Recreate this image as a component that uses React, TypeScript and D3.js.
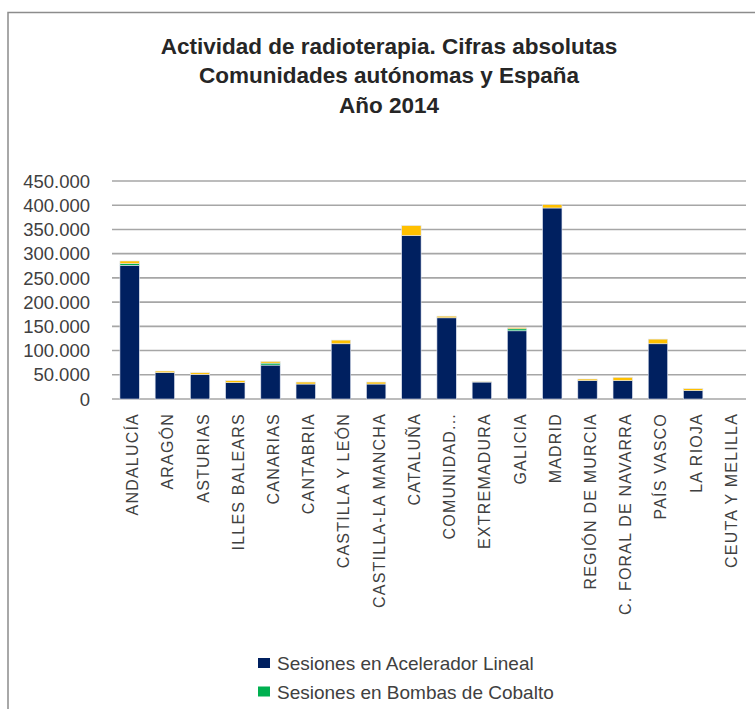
import React from "react";
import * as d3 from "d3";

const titleLines = [
  "Actividad de radioterapia. Cifras absolutas",
  "Comunidades autónomas y España",
  "Año 2014",
];

const categories = [
  "ANDALUCÍA",
  "ARAGÓN",
  "ASTURIAS",
  "ILLES BALEARS",
  "CANARIAS",
  "CANTABRIA",
  "CASTILLA Y LEÓN",
  "CASTILLA-LA MANCHA",
  "CATALUÑA",
  "COMUNIDAD...",
  "EXTREMADURA",
  "GALICIA",
  "MADRID",
  "REGIÓN DE MURCIA",
  "C. FORAL DE NAVARRA",
  "PAÍS VASCO",
  "LA RIOJA",
  "CEUTA Y MELILLA",
];

const acelerador = [276000, 54300, 50800, 33700, 70000, 30900, 114000, 30900, 337300, 167600, 35000, 140800, 394300, 37800, 37800, 114000, 17200, 0];
const cobalto = [3400, 0, 0, 0, 4100, 0, 0, 0, 0, 0, 0, 4100, 0, 0, 0, 0, 0, 0];
const otros = [5500, 3400, 3400, 4100, 3400, 4100, 7600, 4100, 20600, 3400, 600, 2700, 6900, 3400, 6900, 9600, 4100, 0];

const seriesNames = ["Sesiones en Acelerador Lineal", "Sesiones en Bombas de Cobalto", "Sesiones de Braquiterapia"];
const seriesColors = ["#002060", "#00B050", "#FFC000"];
const yTicks = [0, 50000, 100000, 150000, 200000, 250000, 300000, 350000, 400000, 450000];

const W = 755;
const H = 709;

export default function App() {
  const x = d3
    .scaleBand<string>()
    .domain(categories)
    .range([112, 746])
    .paddingInner(0.45)
    .paddingOuter(0.225);
  const y = d3.scaleLinear().domain([0, 450000]).range([399, 181]);
  const fmt = d3.formatLocale({ decimal: ",", thousands: ".", grouping: [3], currency: ["", "€"] }).format(",.0f");

  const table = categories.map((c, i) => ({ cat: c, a: acelerador[i], b: cobalto[i], c: otros[i] }));
  const stack = d3.stack<any>().keys(["a", "b", "c"])(table);

  return (
    <svg
      width={W}
      height={H}
      style={{ position: "absolute", left: 0, top: 0, background: "#fff" }}
      fontFamily="'Liberation Sans', Arial, sans-serif"
    >
      <rect x={0} y={0} width={W} height={H} fill="#fff" />
      <path d={`M8,${H} V12.5 H${W}`} fill="none" stroke="#8c8c8c" strokeWidth={1.5} />
      {titleLines.map((t, i) => (
        <text
          key={i}
          x={389}
          y={53.5 + i * 29.5}
          textAnchor="middle"
          fontSize={22.5}
          fontWeight="bold"
          fill="#262626"
        >
          {t}
        </text>
      ))}
      {yTicks.map((t) => (
        <g key={t}>
          <line x1={112} x2={746} y1={y(t)} y2={y(t)} stroke="#a6a6a6" strokeWidth={1.6} />
          <text x={90} y={y(t)} dy="0.36em" textAnchor="end" fontSize={18.5} fill="#404040">
            {fmt(t)}
          </text>
        </g>
      ))}
      {stack.map((s, si) => (
        <g key={si} fill={seriesColors[si]}>
          {s.map((d, i) => {
            const h = y(d[0]) - y(d[1]);
            if (h <= 0) return null;
            return (
              <rect
                key={i}
                x={x(categories[i])}
                y={y(d[1])}
                width={x.bandwidth()}
                height={h}
                stroke="#dfe5f0"
                strokeWidth={0.6}
              />
            );
          })}
        </g>
      ))}
      {categories.map((c) => {
        const cx = (x(c) as number) + x.bandwidth() / 2;
        return (
          <text
            key={c}
            transform={`translate(${cx + 8.5},413) rotate(-90)`}
            textAnchor="end"
            fontSize={16}
            letterSpacing={1.2}
            fill="#404040"
          >
            {c}
          </text>
        );
      })}
      {seriesNames.slice(0, 2).map((n, i) => (
        <g key={n}>
          <rect x={258} y={658 + i * 28.5} width={12} height={10} fill={seriesColors[i]} />
          <text x={277} y={670 + i * 28.5} fontSize={19} fill="#404040">
            {n}
          </text>
        </g>
      ))}
    </svg>
  );
}
